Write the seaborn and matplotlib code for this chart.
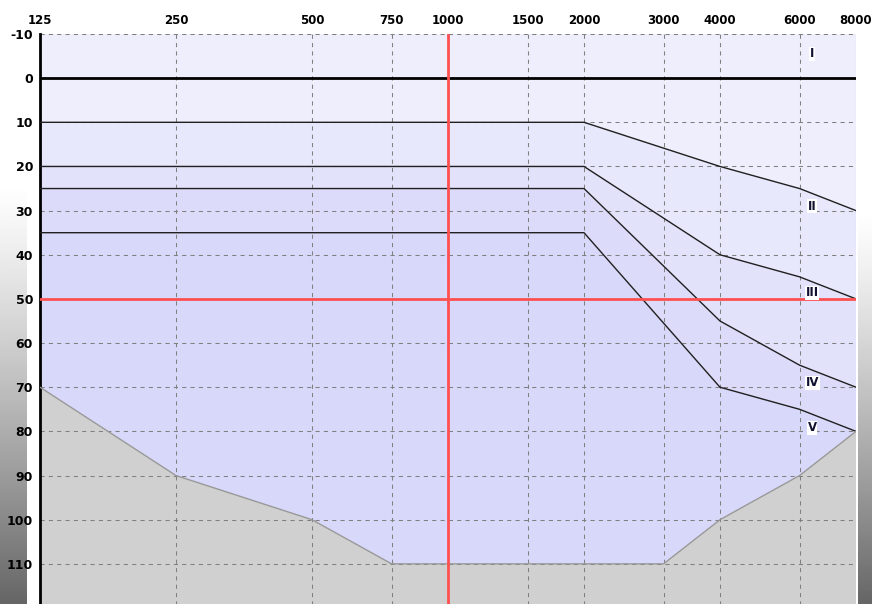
import numpy as np
import pandas as pd
import matplotlib
matplotlib.use("Agg")
import matplotlib.pyplot as plt
import seaborn as sns

# frequencies (Hz) shown on the top axis
freq_ticks = [125, 250, 500, 750, 1000, 1500, 2000, 3000, 4000, 6000, 8000]
db_ticks = list(range(-10, 130, 10))

# class boundaries (dB HL)
bound_freqs = [125, 2000, 4000, 6000, 8000]
line_1 = [10, 10, 20, 25, 30]
line_2 = [20, 20, 40, 45, 50]
line_3 = [25, 25, 55, 65, 70]
line_4 = [35, 35, 70, 75, 80]

# lower limit of the audiometer
floor_freqs = [125, 250, 500, 750, 3000, 4000, 6000, 8000]
floor_db = [70, 90, 100, 110, 110, 100, 90, 80]

class_labels = ["I", "II", "III", "IV", "V"]
class_label_db = [-5.5, 29, 48.6, 69, 79.2]
class_label_freq = 6400

sns.set_style("white")
plt.rcParams['font.family'] = ['DejaVu Sans']

fig = plt.figure(figsize=(8.72, 6.04), dpi=100)

# grey gradient strips at the edges
for x0, w, start in [(0, 26, 0.3), (858, 14, 0.35)]:
    bg = fig.add_axes([x0 / 872, 0, w / 872, 1])
    g = np.clip((np.linspace(0, 1, 256) - start) / (1 - start), 0, 1).reshape(-1, 1) ** 1.2
    bg.imshow(1 - 0.6 * g, cmap="gray", vmin=0, vmax=1, aspect="auto",
              extent=[0, 1, 1, 0])
    bg.set_axis_off()

ax = fig.add_axes([40 / 872, -4 / 604, 816 / 872, 574 / 604])
ax.set_xscale("log")
ax.set_xlim(125, 8000)
ax.set_ylim(120, -10)

# regions
upper = [(-10,) * 5, line_1, line_2, line_3]
lower = [line_1, line_2, line_3, line_4]
colors = ["#eeeefc", "#e8e8fc", "#e2e2fb", "#dcdcfa"]
for up, lo, c in zip(upper, lower, colors):
    xs = bound_freqs + bound_freqs[::-1]
    ys = list(up) + list(lo)[::-1]
    ax.fill(xs, ys, color=c, lw=0, zorder=0)
ax.fill(bound_freqs + floor_freqs[::-1], line_4 + floor_db[::-1],
        color="#d8d8fa", lw=0, zorder=0)
ax.fill(floor_freqs + [8000, 125], floor_db + [120, 120],
        color="#d0d0d0", lw=0, zorder=0)

# grid
for f in freq_ticks:
    ax.axvline(f, color="#808080", ls=(0, (4, 4)), lw=0.75, zorder=1)
for d in db_ticks:
    ax.axhline(d, color="#808080", ls=(0, (4, 4)), lw=0.75, zorder=1)

# boundary lines
df = pd.DataFrame({"freq": bound_freqs * 4,
                   "db": line_1 + line_2 + line_3 + line_4,
                   "line": sum([[i] * 5 for i in range(4)], [])})
sns.lineplot(data=df, x="freq", y="db", units="line", estimator=None,
             color="#202020", lw=1, ax=ax, zorder=3, legend=False)
sns.lineplot(x=floor_freqs, y=floor_db, color="#999999", lw=1, ax=ax,
             zorder=3, legend=False)
ax.axhline(0, color="black", lw=2, zorder=3)

ax.axvline(1000, color="#ff5050", lw=2, zorder=4)
ax.axhline(50, color="#ff5050", lw=2, zorder=4)

for lab, d in zip(class_labels, class_label_db):
    ax.text(class_label_freq, d, lab, fontsize=8.5, fontweight="bold",
            ha="center", va="center", color="#101030", zorder=5,
            bbox=dict(facecolor="white", edgecolor="none", pad=0.5))

ax.set_xticks(freq_ticks)
ax.set_xticklabels([str(f) for f in freq_ticks], fontsize=8.5,
                   fontweight="bold", color="black")
ax.xaxis.set_minor_locator(matplotlib.ticker.NullLocator())
ax.xaxis.tick_top()
ax.set_yticks(db_ticks)
ax.set_yticklabels([str(d) for d in db_ticks], fontsize=9,
                   fontweight="bold", color="black")
ax.tick_params(length=0, pad=5)
ax.set_xlabel("")
ax.set_ylabel("")

for s in ["bottom", "top", "right"]:
    ax.spines[s].set_visible(False)
ax.spines["left"].set_color("black")
ax.spines["left"].set_linewidth(2)

fig.savefig("out.png", dpi=100)
